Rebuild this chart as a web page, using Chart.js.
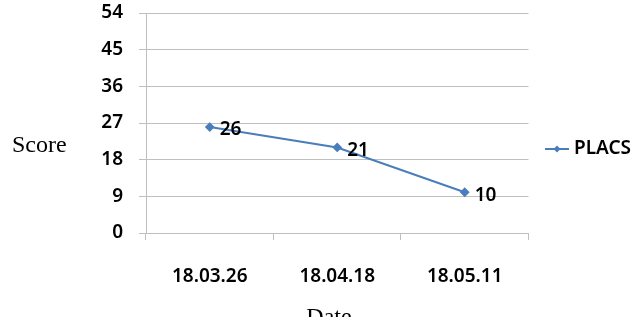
<!DOCTYPE html>
<html>
<head>
<meta charset="utf-8">
<script src="https://cdn.jsdelivr.net/npm/chart.js@4/dist/chart.umd.min.js"></script>
<style>
  html, body { margin: 0; padding: 0; background: #fff; }
  #wrap { width: 640px; height: 317px; }
</style>
</head>
<body>
<div id="wrap"><canvas id="c" width="640" height="317"></canvas></div>
<script>
// data
const dates = ["18.03.26", "18.04.18", "18.05.11"];
const placs = [26, 21, 10];
const seriesName = "PLACS";
const yTitle = "Score";
const xTitle = "Date";

const BLUE = "#4A7EBB";
const GRID = "#BFBFBF";
const TICK_FONT = { family: "Noto Sans", size: 19, weight: 600 };

// legend marker: line with a small diamond
function legendMarker() {
  const cv = document.createElement("canvas");
  cv.width = 24; cv.height = 10;
  const g = cv.getContext("2d");
  g.strokeStyle = BLUE; g.lineWidth = 2;
  g.beginPath(); g.moveTo(0, 5); g.lineTo(24, 5); g.stroke();
  g.fillStyle = BLUE;
  g.beginPath(); g.moveTo(12, 1.5); g.lineTo(15.5, 5); g.lineTo(12, 8.5); g.lineTo(8.5, 5); g.closePath(); g.fill();
  return cv;
}

// value labels to the right of each point + the two axis titles
const extras = {
  id: "extras",
  afterDatasetsDraw(chart) {
    const ctx = chart.ctx;
    const meta = chart.getDatasetMeta(0);
    ctx.save();
    ctx.fillStyle = "#000";
    ctx.font = "600 19px 'Noto Sans'";
    ctx.textAlign = "left";
    ctx.textBaseline = "middle";
    meta.data.forEach((pt, i) => {
      ctx.fillText(String(placs[i]), pt.x + 10, pt.y + 3);
    });
    ctx.restore();
  },
  afterDraw(chart) {
    const ctx = chart.ctx;
    ctx.save();
    ctx.fillStyle = "#000";
    ctx.font = "24px 'Liberation Serif'";
    ctx.textBaseline = "alphabetic";
    ctx.textAlign = "left";
    ctx.fillText(yTitle, 12, 152);
    ctx.textAlign = "center";
    ctx.fillText(xTitle, 329, 324);
    ctx.restore();
  }
};

new Chart(document.getElementById("c"), {
  type: "line",
  data: {
    labels: dates,
    datasets: [{
      label: seriesName,
      data: placs,
      borderColor: BLUE,
      backgroundColor: BLUE,
      borderWidth: 2,
      pointStyle: "rectRot",
      pointRadius: 3.5,
      tension: 0,
      fill: false,
    }],
  },
  options: {
    responsive: false,
    animation: false,
    layout: { padding: { left: 0, right: -1, top: 0, bottom: 19 } },
    scales: {
      x: {
        offset: true,
        grid: { offset: true, drawOnChartArea: false, drawTicks: true, tickLength: 7, color: GRID },
        border: { display: true, color: GRID },
        ticks: { color: "#000", font: TICK_FONT, padding: 25, maxRotation: 0 },
        afterFit(s) { s.height = 65; },
      },
      y: {
        min: 0,
        max: 54,
        grid: { color: GRID, tickLength: 7 },
        border: { display: true, color: GRID },
        ticks: { stepSize: 9, color: "#000", font: TICK_FONT, padding: 16 },
        afterFit(s) { s.width = 146; s.paddingTop = 13; s.paddingBottom = 0; },
      },
    },
    plugins: {
      legend: {
        position: "right",
        labels: {
          usePointStyle: true,
          pointStyle: legendMarker(),
          pointStyleWidth: 15,
          padding: 21,
          color: "#000",
          font: TICK_FONT,
        },
      },
      tooltip: { enabled: false },
    },
  },
  plugins: [extras],
});
</script>
</body>
</html>
